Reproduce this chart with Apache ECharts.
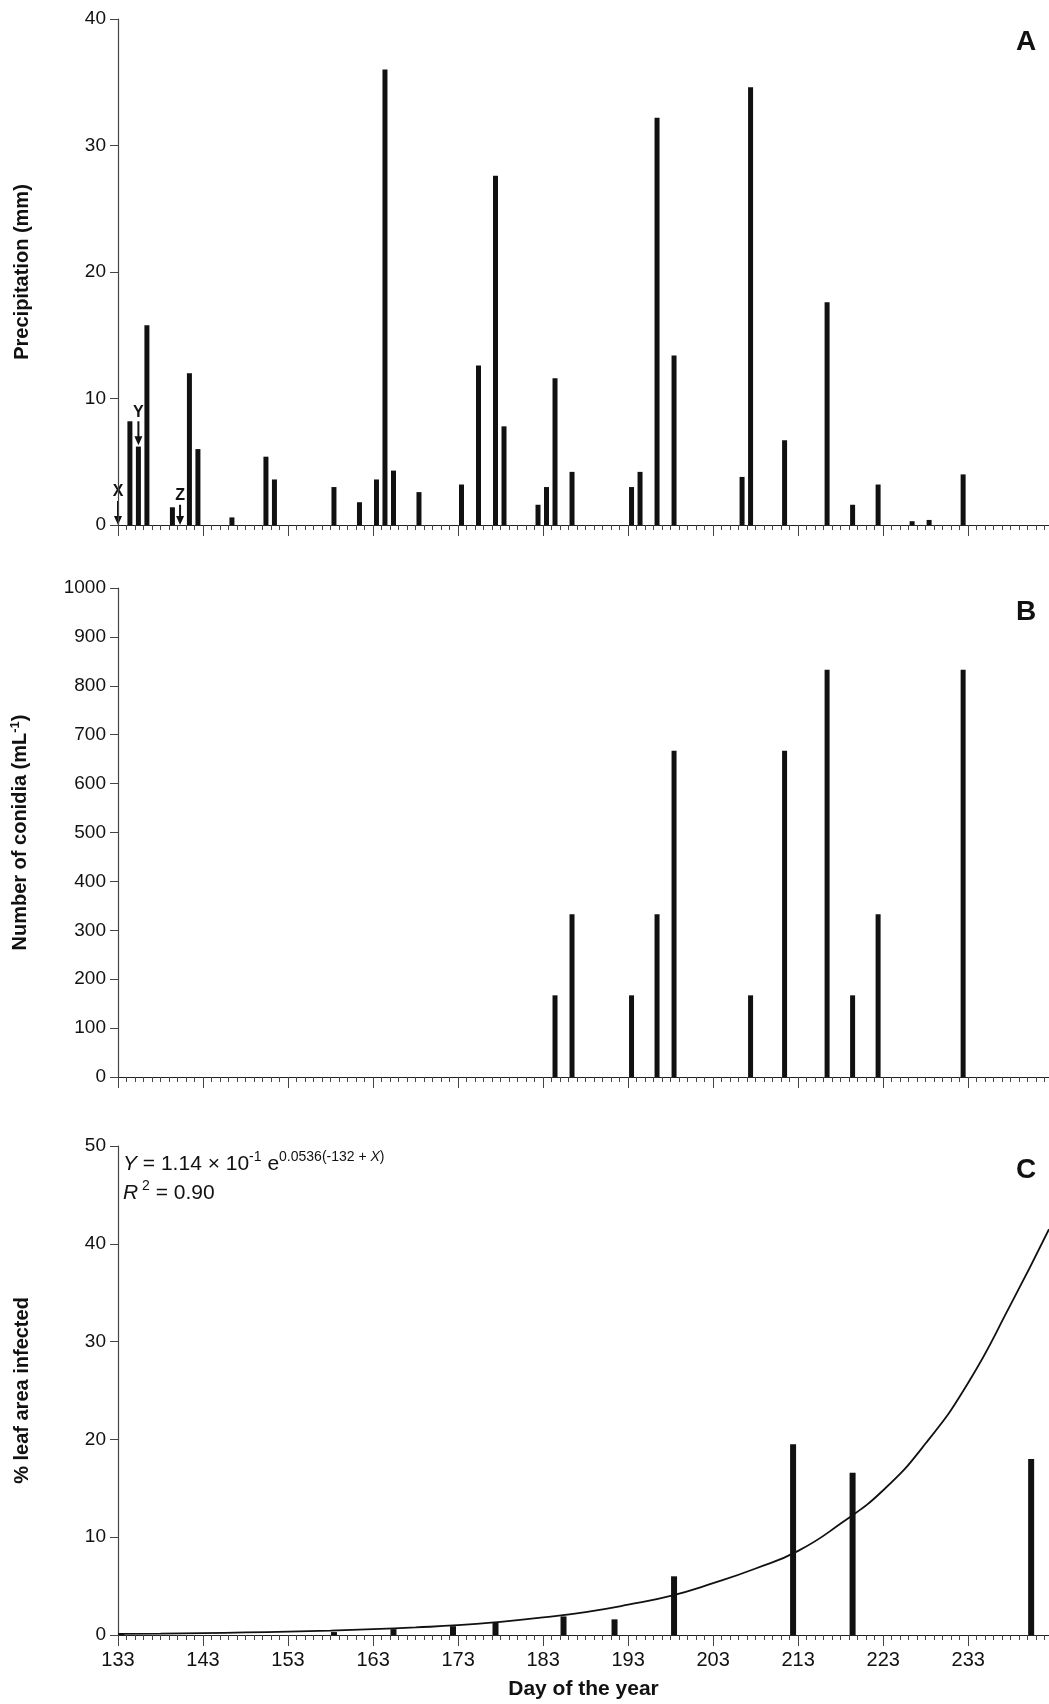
<!DOCTYPE html>
<html>
<head>
<meta charset="utf-8">
<script src="https://cdn.jsdelivr.net/npm/echarts@6/dist/echarts.min.js"></script>
<style>html,body{margin:0;padding:0;background:#fff}#container{width:1049px;height:1704px}</style>
</head>
<body>
<div id="container"></div>
<script>
// panel A: precipitation
var rainDays = [134,135,136,139,141,142,146,150,151,158,161,163,164,165,168,173,175,177,178,182,183,184,186,193,194,196,198,206,207,211,216,219,222,226,228,232];
var rainMm   = [8.2,6.2,15.8,1.4,12.0,6.0,0.6,5.4,3.6,3.0,1.8,3.6,36.0,4.3,2.6,3.2,12.6,27.6,7.8,1.6,3.0,11.6,4.2,3.0,4.2,32.2,13.4,3.8,34.6,6.7,17.6,1.6,3.2,0.3,0.4,4.0];
// panel B: conidia
var conDays  = [184,186,193,196,198,207,211,216,219,222,232];
var conCount = [167,333,167,333,667,167,667,833,167,333,833];
// panel C: leaf area infected
var leafDays = [133,158,165,172,177,185,191,198,212,219,240];
var leafPct  = [0.1,0.3,0.6,0.9,1.3,1.9,1.6,6.0,19.5,16.6,18.0];
// fitted curve
var fitDays  = [133,138,143,148,153,158,163,168,173,178,183,188,193,198,203,208,213,218,223,228,233,238,242.5];
var fitPct   = [0.12,0.15,0.2,0.26,0.34,0.45,0.6,0.78,1.0,1.35,1.8,2.35,3.1,4.0,5.3,6.8,8.6,11.4,14.8,19.6,25.8,33.8,41.5];
// markers in panel A
var markNames = ['X','Y','Z'];
var markDays  = [133,135.4,140.3];
var markTop   = [1.9,8.2,1.6];
var markBot   = [0,6.3,0];

var OFF = 0.4;
var FONT = 'Liberation Sans, Arial, sans-serif';
function pts(xs, ys, off){ return xs.map(function(d,i){ return [d+off, ys[i]]; }); }

var dom = document.getElementById('container');
var chart = echarts.init(dom);

function xAxisCfg(idx, showLabel){
  return {
    type:'value', gridIndex:idx, min:133, max:242.5, interval:10,
    axisLine:{show:true, onZero:false, lineStyle:{color:'#222', width:1.2}},
    axisTick:{show:true, length:11, inside:false, lineStyle:{color:'#444'}},
    minorTick:{show:true, splitNumber:10, length:5, lineStyle:{color:'#444'}},
    axisLabel:{show:showLabel, color:'#111', fontSize:20, fontFamily:FONT, margin:15,
      showMaxLabel:false},
    splitLine:{show:false},
    name: showLabel ? 'Day of the year' : '',
    nameLocation:'middle', nameGap:44,
    nameTextStyle:{fontSize:21, fontWeight:'bold', fontFamily:FONT, color:'#111'}
  };
}
function yAxisCfg(idx, max, interval, name, gap){
  return {
    type:'value', gridIndex:idx, min:0, max:max, interval:interval,
    axisLine:{show:true, lineStyle:{color:'#444', width:1.2}},
    axisTick:{show:true, length:8, lineStyle:{color:'#444'}},
    axisLabel:{color:'#111', fontSize:19, fontFamily:FONT, margin:12,
      formatter:function(v){ return String(v); }},
    splitLine:{show:false},
    name:name, nameLocation:'middle', nameRotate:90, nameGap:gap,
    nameTextStyle:{fontSize:20, fontWeight:'bold', fontFamily:FONT, color:'#111',
      rich:{sup:{fontSize:13, fontWeight:'bold', verticalAlign:'top', padding:[0,0,10,0]}}}
  };
}

var option = {
  animation:false,
  backgroundColor:'#fff',
  grid:[
    {left:118, right:0, top:19, height:506},
    {left:118, right:0, top:588, height:489},
    {left:118, right:0, top:1146, height:489}
  ],
  xAxis:[xAxisCfg(0,false), xAxisCfg(1,false), xAxisCfg(2,true)],
  yAxis:[
    yAxisCfg(0,40,10,'Precipitation (mm)',86),
    yAxisCfg(1,1000,100,'Number of conidia (mL{sup|-1})',86),
    yAxisCfg(2,50,10,'% leaf area infected',86)
  ],
  series:[
    {type:'bar', xAxisIndex:0, yAxisIndex:0, barWidth:5, itemStyle:{color:'#111'},
     data:pts(rainDays, rainMm, OFF)},
    {type:'bar', xAxisIndex:1, yAxisIndex:1, barWidth:5, itemStyle:{color:'#111'},
     data:pts(conDays, conCount, OFF)},
    {type:'bar', xAxisIndex:2, yAxisIndex:2, barWidth:6, itemStyle:{color:'#111'},
     data:pts(leafDays, leafPct, OFF)},
    {type:'line', xAxisIndex:2, yAxisIndex:2, smooth:true, symbol:'none',
     lineStyle:{color:'#111', width:1.8}, data:pts(fitDays, fitPct, 0)}
  ]
};
chart.setOption(option);

// panel letters, equation and X/Y/Z arrows
var g = [
  {type:'text', left:1016, top:28, style:{text:'A', font:'bold 28px '+FONT, fill:'#111'}},
  {type:'text', left:1016, top:598, style:{text:'B', font:'bold 28px '+FONT, fill:'#111'}},
  {type:'text', left:1016, top:1156, style:{text:'C', font:'bold 28px '+FONT, fill:'#111'}},
  {type:'text', left:123, top:1150, style:{
    text:'{i|Y} = 1.14 × 10{s|-1} e{s|0.0536(-132 + }{si|X}{s|)}\n{i|R}{s| 2} = 0.90',
    fontSize:21, fontFamily:FONT, fill:'#111', lineHeight:29,
    rich:{
      i:{fontStyle:'italic', fontSize:21, fontFamily:FONT},
      s:{fontSize:14, fontFamily:FONT, verticalAlign:'top', padding:[0,0,10,0]},
      si:{fontSize:14, fontStyle:'italic', fontFamily:FONT, verticalAlign:'top', padding:[0,0,10,0]}
    }}}
];
markNames.forEach(function(n,i){
  var top = chart.convertToPixel({gridIndex:0}, [markDays[i], markTop[i]]);
  var bot = chart.convertToPixel({gridIndex:0}, [markDays[i], markBot[i]]);
  g.push({type:'line', shape:{x1:top[0], y1:top[1], x2:bot[0], y2:bot[1]-6}, style:{stroke:'#111', lineWidth:2}});
  g.push({type:'polygon', shape:{points:[[bot[0]-4,bot[1]-9],[bot[0]+4,bot[1]-9],[bot[0],bot[1]]]}, style:{fill:'#111'}});
  g.push({type:'text', x:top[0], y:top[1]-1, style:{text:n, font:'bold 16px '+FONT, fill:'#111', align:'center', verticalAlign:'bottom'}});
});
chart.setOption({graphic:g});
</script>
</body>
</html>
